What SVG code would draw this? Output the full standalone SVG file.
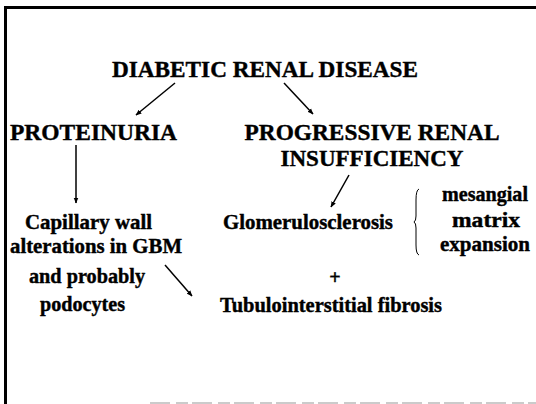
<svg xmlns="http://www.w3.org/2000/svg" width="536" height="404" viewBox="0 0 536 404">
<defs>
<style>
text{font-family:"Liberation Serif","Times New Roman","DejaVu Serif",serif;font-weight:bold;fill:#000;stroke:#000;stroke-width:0.4}
.big{font-size:24px}
.sm{font-size:20px}
.ln{stroke:#000;stroke-width:1.5;fill:none}
</style>
<marker id="ah" viewBox="0 0 10 10" refX="9" refY="5" markerWidth="6" markerHeight="6" orient="auto" markerUnits="userSpaceOnUse">
<path d="M0,1 L10,5 L0,9 Z" fill="#000"/>
</marker>
</defs>
<rect width="536" height="404" fill="#fff"/>
<g id="frame">
<line x1="4" y1="7.5" x2="536" y2="7.5" stroke="#000" stroke-width="3"/>
<line x1="5.5" y1="6" x2="5.5" y2="404" stroke="#000" stroke-width="3"/>
<line x1="150" y1="403" x2="536" y2="403" stroke="#bbb" stroke-width="1.5" stroke-dasharray="20 6 12 4"/>
</g>
<g id="title"><text class="big" font-family="Liberation Serif, serif" x="265" y="77" text-anchor="middle" textLength="306" lengthAdjust="spacingAndGlyphs">DIABETIC RENAL DISEASE</text></g>
<g id="proteinuria"><text class="big" font-family="Liberation Serif, serif" x="10" y="140" textLength="167" lengthAdjust="spacingAndGlyphs">PROTEINURIA</text></g>
<g id="progressive" font-family="Liberation Serif, serif">
<text class="big" x="372" y="140" text-anchor="middle" textLength="255" lengthAdjust="spacingAndGlyphs">PROGRESSIVE RENAL</text>
<text class="big" x="372" y="166" text-anchor="middle" textLength="183" lengthAdjust="spacingAndGlyphs">INSUFFICIENCY</text>
</g>
<g id="capillary">
<text class="sm" x="25" y="229" textLength="127" lengthAdjust="spacingAndGlyphs">Capillary wall</text>
<text class="sm" x="10" y="253" textLength="172" lengthAdjust="spacingAndGlyphs">alterations in GBM</text>
<text class="sm" x="29" y="283" textLength="116" lengthAdjust="spacingAndGlyphs">and probably</text>
<text class="sm" x="40" y="311" textLength="85" lengthAdjust="spacingAndGlyphs">podocytes</text>
</g>
<g id="glomerulosclerosis"><text class="sm" x="223" y="229" textLength="170" lengthAdjust="spacingAndGlyphs">Glomerulosclerosis</text></g>
<g id="mesangial">
<path d="M419,189 Q416,190 416,200 L416,216 Q416,221 414,222 Q416,223 416,228 L416,245 Q416,254 419,255" stroke="#000" stroke-width="1" fill="none"/>
<text class="sm" x="442" y="201" textLength="86" lengthAdjust="spacingAndGlyphs">mesangial</text>
<text class="sm" x="452" y="227" textLength="68" lengthAdjust="spacingAndGlyphs">matrix</text>
<text class="sm" x="440" y="251" textLength="90" lengthAdjust="spacingAndGlyphs">expansion</text>
</g>
<g id="plus"><text class="sm" x="335" y="284" text-anchor="middle">+</text></g>
<g id="tubulo"><text class="sm" x="220" y="312" textLength="222" lengthAdjust="spacingAndGlyphs">Tubulointerstitial fibrosis</text></g>
<g id="connectors">
<line class="ln" x1="175" y1="83" x2="136" y2="115" marker-end="url(#ah)"/>
<line class="ln" x1="284" y1="83" x2="313" y2="114" marker-end="url(#ah)"/>
<line class="ln" x1="76" y1="145" x2="76" y2="203" marker-end="url(#ah)"/>
<line class="ln" x1="349" y1="175" x2="331" y2="207" marker-end="url(#ah)"/>
<line class="ln" x1="165" y1="265" x2="192" y2="296" marker-end="url(#ah)"/>
</g>
</svg>
